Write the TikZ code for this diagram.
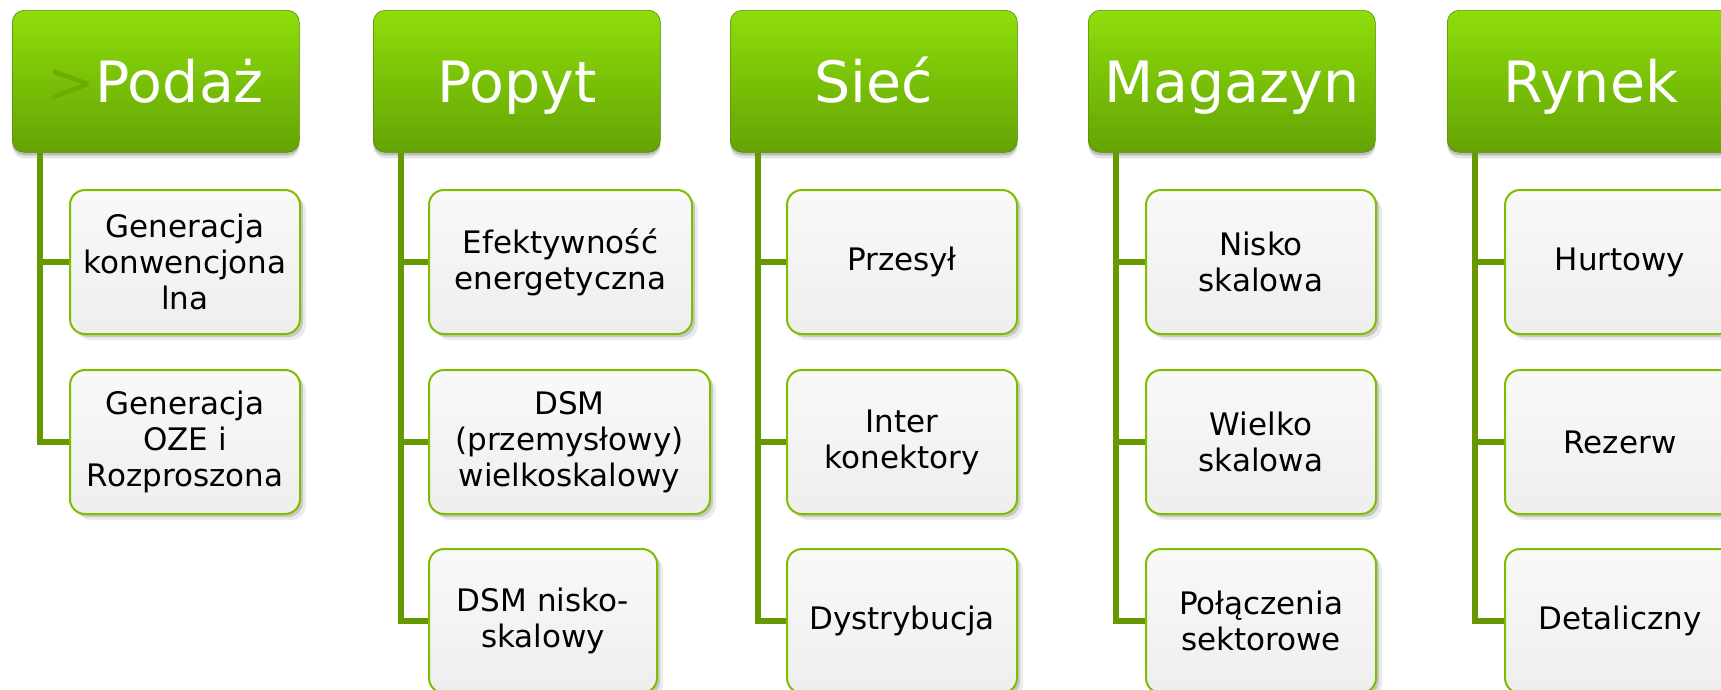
\documentclass[tikz,border=0pt]{standalone}
\usepackage{fontspec}
\setmainfont{DejaVu Sans}
\usetikzlibrary{shadows}
\definecolor{lineG}{HTML}{669900}
\definecolor{bordG}{HTML}{7DBE00}
\definecolor{hdTop}{HTML}{8EDE0A}
\definecolor{hdBot}{HTML}{64A305}
\definecolor{cTop}{HTML}{F9F9F9}
\definecolor{cBot}{HTML}{EEEEEE}
\definecolor{glyphG}{HTML}{6EAD00}
\tikzset{
  hdr/.style={rectangle, rounded corners=12pt, minimum width=287pt, minimum height=142pt,
    top color=hdTop, bottom color=hdBot, draw=hdBot!85!black, line width=0.6pt,
    text=white, font=\fontsize{57}{60}\selectfont, inner sep=0pt, anchor=north west,
    text height=45pt, text depth=3.5pt,
    general shadow={shadow xshift=0pt, shadow yshift=-3pt, opacity=0.18, fill=black},
    general shadow={shadow xshift=0pt, shadow yshift=-6pt, opacity=0.10, fill=black}},
  child/.style={rectangle, rounded corners=15pt, minimum height=144pt,
    top color=cTop, bottom color=cBot, draw=bordG, line width=2pt,
    text=black, font=\fontsize{31}{36}\selectfont, align=center, inner sep=0pt, anchor=north west,
    general shadow={shadow xshift=3pt, shadow yshift=-3pt, opacity=0.15, fill=black},
    general shadow={shadow xshift=6pt, shadow yshift=-6pt, opacity=0.08, fill=black}},
  conn/.style={draw=lineG, line width=6pt}
}
\begin{document}
\begin{tikzpicture}[x=1pt,y=-1pt]
\useasboundingbox (0,0) rectangle (1721,689);
% headers
\node[hdr] (h1) at (12,10) {{\color{glyphG}>}Podaż};
\node[hdr] (h2) at (373,10) {Popyt};
\node[hdr] (h3) at (730,10) {Sieć};
\node[hdr] (h4) at (1088,10) {Magazyn};
\node[hdr] (h5) at (1447,10) {Rynek};
% coordinates for trunk tops
\coordinate (t1) at ([xshift=28pt]h1.south west);
\coordinate (t2) at ([xshift=28pt]h2.south west);
\coordinate (t3) at ([xshift=28pt]h3.south west);
\coordinate (t4) at ([xshift=28pt]h4.south west);
\coordinate (t5) at ([xshift=28pt]h5.south west);
% children
\node[child, minimum width=230pt] (c11) at (69,189) {Generacja\\konwencjona\\lna};
\node[child, minimum width=230pt] (c12) at (69,369) {Generacja\\OZE i\\Rozproszona};

\node[child, minimum width=263pt] (c21) at (428,189) {Efektywność\\energetyczna};
\node[child, minimum width=281pt] (c22) at (428,369) {DSM\\(przemysłowy)\\wielkoskalowy};
\node[child, minimum width=228pt] (c23) at (428,548) {DSM nisko-\\skalowy};

\node[child, minimum width=230pt] (c31) at (786,189) {Przesył};
\node[child, minimum width=230pt] (c32) at (786,369) {Inter\\konektory};
\node[child, minimum width=230pt] (c33) at (786,548) {Dystrybucja};

\node[child, minimum width=230pt] (c41) at (1145,189) {Nisko\\skalowa};
\node[child, minimum width=230pt] (c42) at (1145,369) {Wielko\\skalowa};
\node[child, minimum width=230pt] (c43) at (1145,548) {Połączenia\\sektorowe};

\node[child, minimum width=230pt] (c51) at (1504,189) {Hurtowy};
\node[child, minimum width=230pt] (c52) at (1504,369) {Rezerw};
\node[child, minimum width=230pt] (c53) at (1504,548) {Detaliczny};
% connectors
\draw[conn] (t1) |- (c12.west);
\draw[conn] (t1) |- (c11.west);
\foreach \i in {2,3,4,5}{
  \draw[conn] (t\i) |- (c\i3.west);
  \draw[conn] (t\i) |- (c\i2.west);
  \draw[conn] (t\i) |- (c\i1.west);
}
\end{tikzpicture}
\end{document}
